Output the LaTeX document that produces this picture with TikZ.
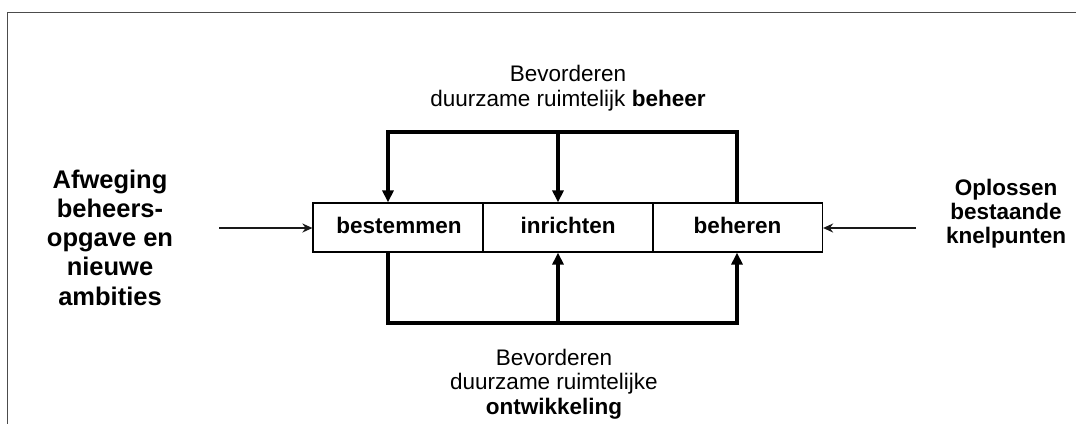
\documentclass[tikz,border=0pt]{standalone}
\usepackage{fontspec}
\setmainfont{Liberation Sans}
\usetikzlibrary{arrows.meta}
\begin{document}
\begin{tikzpicture}[x=1pt,y=-1pt,
  stage/.style={draw, line width=1.2pt, minimum height=49pt, minimum width=170pt, inner sep=0pt},
  stagetxt/.style={anchor=base, inner sep=0pt, font=\fontsize{22.5}{25}\selectfont\bfseries},
  loop/.style={line width=3.2pt},
  arr/.style={-{Triangle[length=12pt,width=11pt]}},
  feed/.style={line width=2.2pt, gray!20!black, -{Stealth[length=10pt,width=9pt]}},
  lbl/.style={align=center, anchor=base, inner sep=0pt, font=\fontsize{22.5}{24.5}\selectfont},
  side/.style={align=center, anchor=base, inner sep=0pt, font=\fontsize{25.5}{29.25}\selectfont\bfseries},
  sider/.style={align=center, anchor=base, inner sep=0pt, font=\fontsize{22.5}{24}\selectfont\bfseries}]
\useasboundingbox (0,0) rectangle (1076,424);
\draw[line width=1pt, gray!60!black] (1076,12) -- (7,12) -- (7,424);
% boxes
\node[stage] (b1) at (398,227.5) {};
\node[stage] (b2) at (568,227.5) {};
\node[stage] (b3) at (737.5,227.5) {};
\node[stagetxt] (t1) at (399,233) {bestemmen};
\node[stagetxt] (t2) at (568,233) {inrichten};
\node[stagetxt] (t3) at (737.5,233) {beheren};
% top loop
\coordinate (tl) at (388,132);
\coordinate (tm) at (558,132);
\coordinate (tr) at (737,132);
\draw[loop, line cap=rect] (tr |- b3.north) -- (tr) -- (tl);
\draw[loop, arr] (tl) -- (tl |- b1.north);
\draw[loop, arr] (tm) -- (tm |- b2.north);
% bottom loop
\coordinate (bl) at (388,323);
\coordinate (bm) at (558,323);
\coordinate (br) at (737,323);
\draw[loop, line cap=rect] (bl |- b1.south) -- (bl) -- (br);
\draw[loop, arr] (bm) -- (bm |- b2.south);
\draw[loop, arr] (br) -- (br |- b3.south);
% labels (base anchor = baseline of the last line)
\node[lbl] (top) at (568,106) {Bevorderen\\duurzame ruimtelijk \textbf{beheer}};
\node[lbl] (bot) at (554,414) {Bevorderen\\duurzame ruimtelijke\\\textbf{ontwikkeling}};
\node[side] (left) at (110,305) {Afweging\\beheers-\\opgave en\\nieuwe\\ambities};
\node[sider] (right) at (1006,243) {Oplossen\\bestaande\\knelpunten};
% side arrows
\coordinate (lin) at (219,228);
\coordinate (rin) at (916,228);
\draw[feed] (lin) -- (b1.west |- lin);
\draw[feed] (rin) -- (b3.east |- rin);
\end{tikzpicture}
\end{document}
